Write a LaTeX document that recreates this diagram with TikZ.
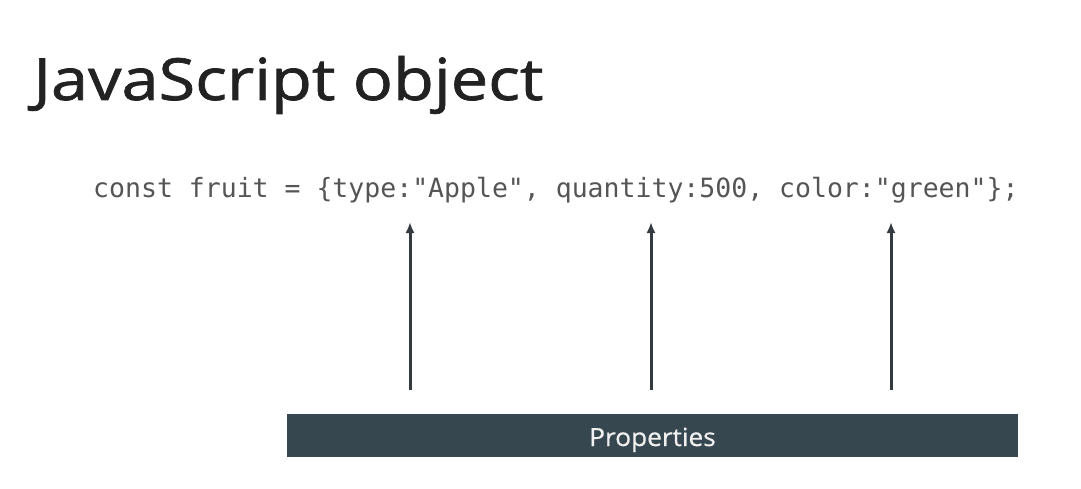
\documentclass[tikz,border=0pt]{standalone}
\usepackage{fontspec}
\setmainfont{Open Sans}
\newfontfamily\titlefont{Open Sans}[FakeStretch=1.15,FakeBold=1.2]
\newfontfamily\barfont{Open Sans}[FakeStretch=1.05,FakeBold=0.6]
\newfontfamily\codefont{DejaVu Sans Mono}
\usepackage{tikz}
\usetikzlibrary{arrows.meta}
\definecolor{barSlate}{HTML}{37474F}
\definecolor{arrowInk}{HTML}{333A40}
\definecolor{codeGray}{HTML}{555555}
\definecolor{titleInk}{HTML}{222222}

\begin{document}
\begin{tikzpicture}[x=1pt,y=-1pt]
 \newcommand{\tipY}{222}
 \newcommand{\tailY}{390}
	\tikzset{propbar/.style = {fill=barSlate,text=white!94!black,minimum width=731pt,minimum height=43pt,inner sep=0pt,text height=21pt,text depth=0pt,font=\barfont\fontsize{25}{28}\selectfont}}
	\tikzstyle{propArrow} = [-{Latex[length=11pt,width=9pt]},line width=3pt,draw=arrowInk]
	% background
	\fill[white] (0,0) rectangle (1081,489);
	\useasboundingbox (0,0) rectangle (1081,489);
	% title
	\node[anchor=base west,inner sep=0pt,text=titleInk,font=\titlefont\fontsize{58}{64}\selectfont] (title) at (33,100) {JavaScript object};
	% code line
	\node[anchor=base west,inner sep=0pt,text=codeGray,font=\codefont\fontsize{26.5}{30}\selectfont] (code) at (93,198) {const fruit = \{type:"Apple", quantity:500, color:"green"\};};
	% bar
	\node[propbar] (props) at (652.5,435.5) {Properties};
	% arrows
	\foreach \ax [count=\i] in {410,651,891} {
		\coordinate (tail\i) at (\ax,\tailY);
		\coordinate (tip\i) at (\ax,\tipY);
		\draw[propArrow] (tail\i) -- (tip\i);
	}
\end{tikzpicture}
\end{document}
